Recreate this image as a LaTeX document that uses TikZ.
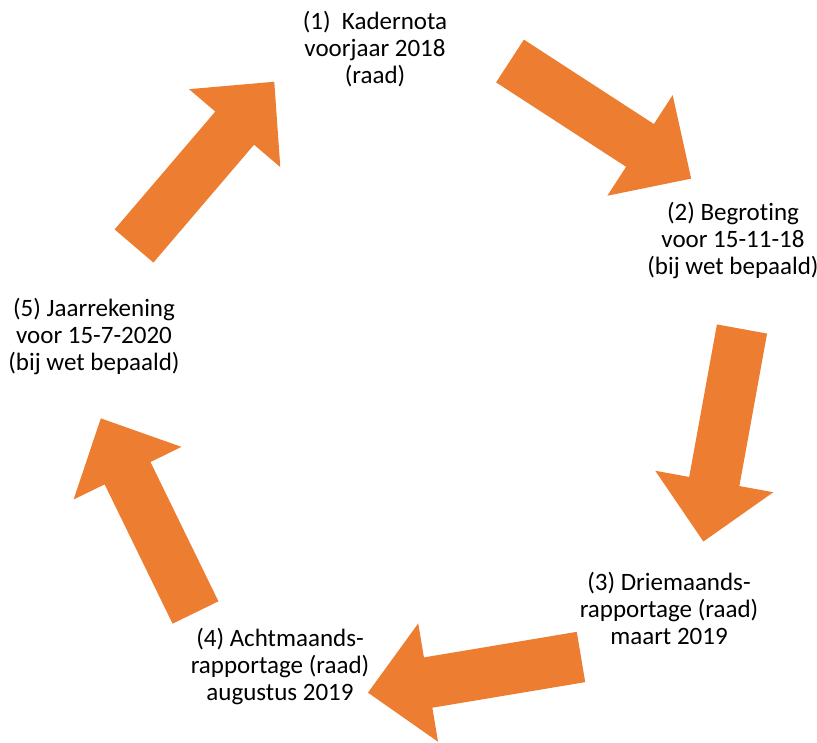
\documentclass[tikz,border=0pt]{standalone}
\usepackage{fontspec}
\setmainfont{Carlito}[Ligatures=NoCommon]
\usetikzlibrary{positioning}
\definecolor{cycleorange}{RGB}{237,125,49}

% fat block arrow: tail centre, direction
\newcommand{\fatarrow}[2]{%
	\fill[cycleorange,shift={(#1)},rotate=#2]
		(0,-25.5) -- (155,-25.5) -- (155,-60) -- (216,0)
		-- (155,60) -- (155,25.5) -- (0,25.5) -- cycle;}

\begin{document}
\begin{tikzpicture}[x=1pt,y=1pt,
	stage/.style={align=center,inner sep=0pt,
		font=\fontsize{25}{27}\selectfont}]
	\useasboundingbox (0,0) rectangle (817,742);

	\node[stage] (S1) at (375,692.5) {(1)\ \ Kadernota\\voorjaar 2018\\(raad)};
	\node[stage] (S2) at (733,501.5) {(2) Begroting\\voor 15-11-18\\(bij wet bepaald)};
	\node[stage] (S3) at (669,134) {(3) Driemaands-\\rapportage (raad)\\maart 2019};
	\node[stage] (S4) at (280,75) {(4) Achtmaands-\\rapportage (raad)\\augustus 2019};
	\node[stage] (S5) at (94,405.5) {(5) Jaarrekening\\voor 15-7-2020\\(bij wet bepaald)};

	\coordinate (A1) at (134,496);
	\coordinate (A2) at (510,681);
	\coordinate (A3) at (742,413);
	\coordinate (A4) at (581,85);
	\coordinate (A5) at (195.5,129.5);

	\fatarrow{A1}{49.5}
	\fatarrow{A2}{-33}
	\fatarrow{A3}{-100.3}
	\fatarrow{A4}{189.5}
	\fatarrow{A5}{116}
\end{tikzpicture}
\end{document}
